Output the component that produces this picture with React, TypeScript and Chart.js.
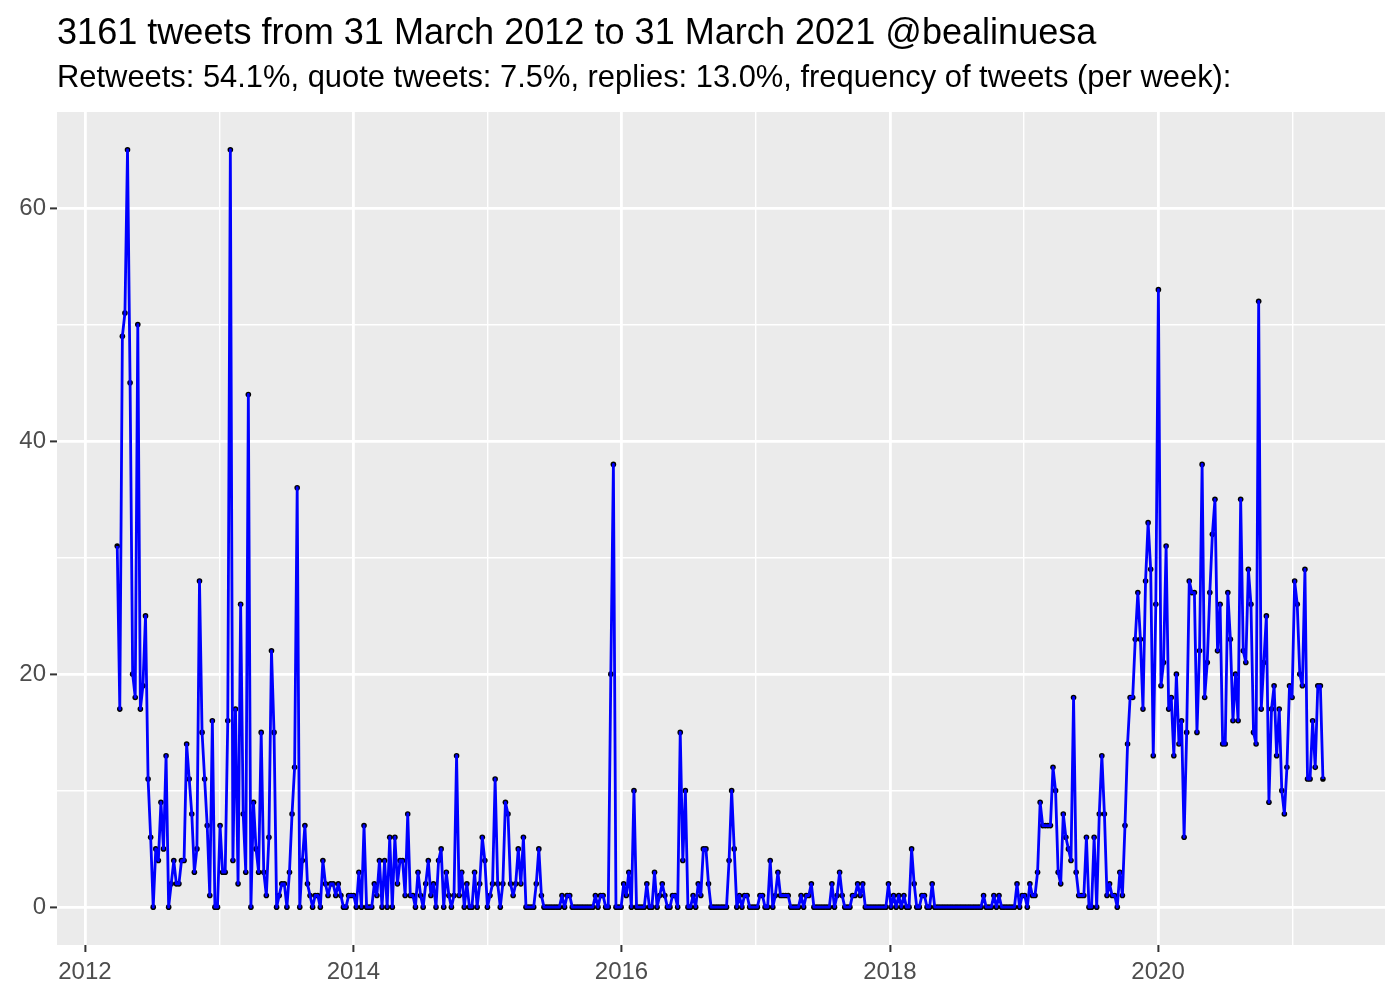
import React, { useEffect, useRef } from "react";
import { Chart, registerables } from "chart.js";

Chart.register(...registerables);

const titleText = "3161 tweets from 31 March 2012 to 31 March 2021 @bealinuesa";
const subtitleText =
  "Retweets: 54.1%, quote tweets: 7.5%, replies: 13.0%, frequency of tweets (per week):";

// first weekly bin; each following value is one week later
const firstWeek = "2012-03-29";

// tweets per week
const weeklyTweets = [
  31, 17, 49, 51, 65, 45, 20, 18, 50, 17,
  19, 25, 11, 6, 0, 5, 4, 9, 5, 13,
  0, 2, 4, 2, 2, 4, 4, 14, 11, 8,
  3, 5, 28, 15, 11, 7, 1, 16, 0, 0,
  7, 3, 3, 16, 65, 4, 17, 2, 26, 8,
  3, 44, 0, 9, 5, 3, 15, 3, 1, 6,
  22, 15, 0, 1, 2, 2, 0, 3, 8, 12,
  36, 0, 4, 7, 2, 1, 0, 1, 1, 0,
  4, 2, 1, 2, 2, 1, 2, 1, 0, 0,
  1, 1, 1, 0, 3, 0, 7, 0, 0, 0,
  2, 1, 4, 0, 4, 0, 6, 0, 6, 2,
  4, 4, 1, 8, 1, 1, 0, 3, 1, 0,
  2, 4, 1, 2, 0, 4, 5, 0, 3, 1,
  0, 1, 13, 1, 3, 0, 2, 0, 0, 3,
  0, 2, 6, 4, 0, 1, 2, 11, 2, 0,
  2, 9, 8, 2, 1, 2, 5, 2, 6, 0,
  0, 0, 0, 2, 5, 1, 0, 0, 0, 0,
  0, 0, 0, 1, 0, 1, 1, 0, 0, 0,
  0, 0, 0, 0, 0, 0, 1, 0, 1, 1,
  0, 0, 20, 38, 0, 0, 0, 2, 1, 3,
  0, 10, 0, 0, 0, 0, 2, 0, 0, 3,
  0, 1, 2, 1, 0, 0, 1, 1, 0, 15,
  4, 10, 0, 0, 1, 0, 2, 1, 5, 5,
  2, 0, 0, 0, 0, 0, 0, 0, 4, 10,
  5, 0, 1, 0, 1, 1, 0, 0, 0, 0,
  1, 1, 0, 0, 4, 0, 1, 3, 1, 1,
  1, 1, 0, 0, 0, 0, 1, 0, 1, 1,
  2, 0, 0, 0, 0, 0, 0, 0, 2, 0,
  1, 3, 1, 0, 0, 0, 1, 1, 2, 1,
  2, 0, 0, 0, 0, 0, 0, 0, 0, 0,
  2, 0, 1, 0, 1, 0, 1, 0, 0, 5,
  2, 0, 0, 1, 1, 0, 0, 2, 0, 0,
  0, 0, 0, 0, 0, 0, 0, 0, 0, 0,
  0, 0, 0, 0, 0, 0, 0, 1, 0, 0,
  0, 1, 0, 1, 0, 0, 0, 0, 0, 0,
  2, 0, 1, 1, 0, 2, 1, 1, 3, 9,
  7, 7, 7, 7, 12, 10, 3, 2, 8, 6,
  5, 4, 18, 3, 1, 1, 1, 6, 0, 0,
  6, 0, 8, 13, 8, 1, 2, 1, 1, 0,
  3, 1, 7, 14, 18, 18, 23, 27, 23, 17,
  28, 33, 29, 13, 26, 53, 19, 21, 31, 17,
  18, 13, 20, 14, 16, 6, 15, 28, 27, 27,
  15, 22, 38, 18, 21, 27, 32, 35, 22, 26,
  14, 14, 27, 23, 16, 20, 16, 35, 22, 21,
  29, 26, 15, 14, 52, 17, 21, 25, 9, 17,
  19, 13, 17, 10, 8, 12, 19, 18, 28, 26,
  20, 19, 29, 11, 11, 16, 12, 19, 19, 11,
];

const yTicks = [0, 10, 20, 30, 40, 50, 60];
const yLabelled = [0, 20, 40, 60];
const yearTicks = [2012, 2013, 2014, 2015, 2016, 2017, 2018, 2019, 2020, 2021];
const yearLabelled = [2012, 2014, 2016, 2018, 2020];

const DAY = 86400000;
const ORIGIN = Date.parse("2012-01-01T00:00:00Z");
const dayOf = (s: string) => (Date.parse(s + "T00:00:00Z") - ORIGIN) / DAY;
const yearDay = (y: number) => dayOf(`${y}-01-01`);

const FONT = '"Liberation Sans", Arial, Helvetica, sans-serif';

export default function App() {
  const ref = useRef<HTMLCanvasElement | null>(null);

  useEffect(() => {
    const canvas = ref.current;
    if (!canvas) return;
    const start = dayOf(firstWeek);
    const pts = weeklyTweets.map((v, i) => ({ x: start + 7 * i, y: v }));

    const panelBg = {
      id: "panelBg",
      beforeDraw(chart: any) {
        const { ctx, chartArea: a } = chart;
        ctx.save();
        ctx.fillStyle = "#FFFFFF";
        ctx.fillRect(0, 0, chart.width, chart.height);
        ctx.fillStyle = "#EBEBEB";
        ctx.fillRect(a.left, a.top, a.right - a.left, a.bottom - a.top);
        ctx.restore();
      },
    };

    const isMajorX = (v: number) => yearLabelled.some((y) => yearDay(y) === v);
    const isMajorY = (v: number) => yLabelled.includes(v);

    const chart = new Chart(canvas, {
      type: "line",
      data: {
        datasets: [
          {
            label: "line",
            data: pts,
            borderColor: "#0000FF",
            borderWidth: 2.8,
            pointRadius: 0,
            tension: 0,
            fill: false,
            borderJoinStyle: "round",
            borderCapStyle: "butt",
            order: 0,
          },
          {
            label: "points",
            data: pts,
            showLine: false,
            pointRadius: 2.8,
            pointBackgroundColor: "#000000",
            pointBorderColor: "#000000",
            pointBorderWidth: 0,
            order: 1,
          },
        ],
      },
      options: {
        animation: false,
        responsive: false,
        devicePixelRatio: 1,
        events: [],
        layout: { padding: { top: 112, right: 15, bottom: 0, left: 0 } },
        plugins: {
          legend: { display: false },
          tooltip: { enabled: false },
          title: { display: false },
        },
        scales: {
          x: {
            type: "linear",
            min: -76,
            max: 3540,
            afterFit: (s: any) => {
              s.height = 55;
            },
            afterBuildTicks: (s: any) => {
              s.ticks = yearTicks.map((y) => ({ value: yearDay(y) }));
            },
            border: { display: false },
            grid: {
              color: "#FFFFFF",
              lineWidth: (c: any) => (c.tick && isMajorX(c.tick.value) ? 2.8 : 1.4),
              tickColor: (c: any) =>
                c.tick && isMajorX(c.tick.value) ? "#333333" : "rgba(0,0,0,0)",
              tickLength: 7,
              tickWidth: 2,
            },
            ticks: {
              autoSkip: false,
              maxRotation: 0,
              padding: 6,
              color: "#4D4D4D",
              font: { family: FONT, size: 24 },
              callback: (v: any) => {
                const y = yearLabelled.find((yy) => yearDay(yy) === v);
                return y === undefined ? "" : String(y);
              },
            },
          },
          y: {
            type: "linear",
            min: -3.25,
            max: 68.25,
            afterFit: (s: any) => {
              s.width = 57;
            },
            afterBuildTicks: (s: any) => {
              s.ticks = yTicks.map((v) => ({ value: v }));
            },
            border: { display: false },
            grid: {
              color: "#FFFFFF",
              lineWidth: (c: any) => (c.tick && isMajorY(c.tick.value) ? 2.8 : 1.4),
              tickColor: (c: any) =>
                c.tick && isMajorY(c.tick.value) ? "#333333" : "rgba(0,0,0,0)",
              tickLength: 7,
              tickWidth: 2,
            },
            ticks: {
              autoSkip: false,
              padding: 4,
              color: "#4D4D4D",
              font: { family: FONT, size: 24 },
              callback: (v: any) => (isMajorY(v) ? String(v) : ""),
            },
          },
        },
      },
      plugins: [panelBg],
    } as any);

    return () => chart.destroy();
  }, []);

  return (
    <div
      style={{
        position: "fixed",
        left: 0,
        top: 0,
        width: 1400,
        height: 1000,
        background: "#FFFFFF",
        overflow: "hidden",
      }}
    >
      <canvas
        ref={ref}
        width={1400}
        height={1000}
        style={{ position: "absolute", left: 0, top: 0, width: 1400, height: 1000 }}
      />
      <div
        style={{
          position: "absolute",
          left: 57,
          top: 13.5,
          fontFamily: FONT,
          fontSize: 36.1,
          lineHeight: "36px",
          color: "#000000",
          whiteSpace: "nowrap",
        }}
      >
        {titleText}
      </div>
      <div
        style={{
          position: "absolute",
          left: 57,
          top: 62,
          fontFamily: FONT,
          fontSize: 30.9,
          lineHeight: "30.8px",
          color: "#000000",
          whiteSpace: "nowrap",
        }}
      >
        {subtitleText}
      </div>
    </div>
  );
}
